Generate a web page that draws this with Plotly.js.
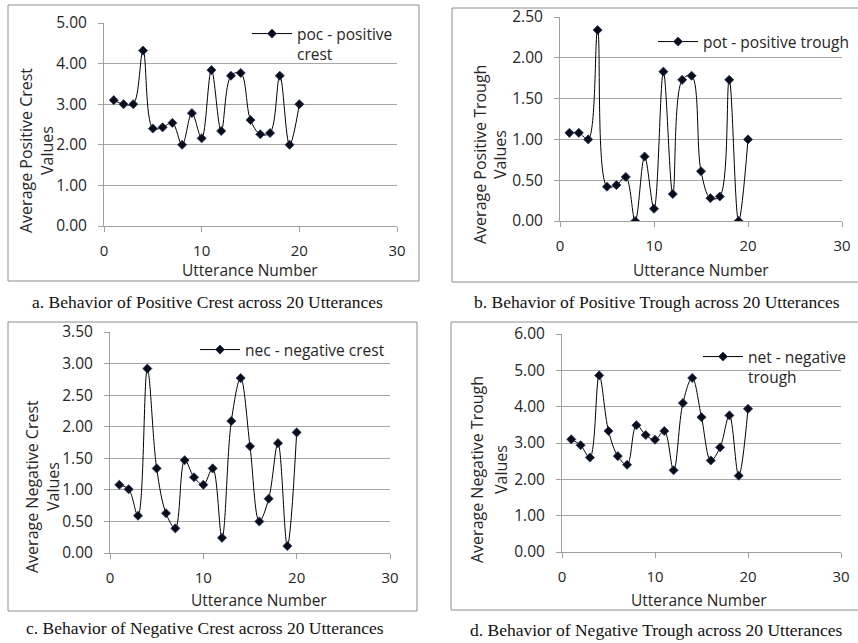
<!DOCTYPE html>
<html>
<head>
<meta charset="utf-8">
<script src="https://cdn.plot.ly/plotly-3.0.1.min.js"></script>
<style>html,body{margin:0;padding:0;background:#fff;}#chart{width:858px;height:643px;}</style>
</head>
<body>
<div id="chart"></div>
<script>
// ---- data ----
const utterances = [1,2,3,4,5,6,7,8,9,10,11,12,13,14,15,16,17,18,19,20];
const pocValues = [3.10,3.00,3.00,4.32,2.40,2.43,2.54,2.00,2.78,2.16,3.84,2.34,3.70,3.77,2.61,2.26,2.29,3.70,2.00,3.00];
const potValues = [1.08,1.08,1.00,2.34,0.42,0.44,0.54,0.00,0.79,0.15,1.83,0.33,1.73,1.78,0.61,0.28,0.30,1.73,0.00,1.00];
const necValues = [1.08,1.01,0.59,2.92,1.34,0.63,0.39,1.47,1.20,1.08,1.34,0.24,2.09,2.77,1.69,0.50,0.86,1.74,0.11,1.91];
const netValues = [3.10,2.94,2.60,4.86,3.33,2.64,2.40,3.49,3.22,3.09,3.33,2.25,4.10,4.79,3.71,2.52,2.88,3.76,2.10,3.94];
const seriesNames = ["poc - positive<br>crest","pot - positive trough","nec - negative crest","net - negative<br>trough"];
const yTitles = [["Average Positive Crest","Values"],["Average Positive Trough","Values"],["Average Negative Crest","Values"],["Average Negative Trough","Values"]];
const xTitle = "Utterance Number";
const captions = ["a. Behavior of Positive Crest across 20 Utterances","b. Behavior of Positive Trough across 20 Utterances","c. Behavior of Negative Crest across 20 Utterances","d. Behavior of Negative Trough across 20 Utterances"];
const yMax = [5, 2.5, 3.5, 6];
const yStep = [1, 0.5, 0.5, 1];
const xTicks = [0,10,20,30];

// ---- layout geometry (pixels) ----
const W = 858, H = 643;
const px = v => v / W;
const py = v => 1 - v / H;
const plots = [
  {x0:104, x1:397, y0:23,  y1:226, box:[8,5,419,281],    leg:[247,17], yt:[[26,151],[47,151]], xt:[250,270], cap:[207,302]},
  {x0:560, x1:842, y0:17,  y1:221, box:[452,8,870,282],  leg:[653,25], yt:[[480,155],[500,155]], xt:[701,270], cap:[657,302]},
  {x0:110, x1:390, y0:332, y1:553, box:[8,322,417,611],  leg:[195,333], yt:[[32,487],[53,487]], xt:[259,600], cap:[205,628]},
  {x0:562, x1:841, y0:334, y1:552, box:[451,322,870,610], leg:[698,340], yt:[[477,470],[501,470]], xt:[699,600], cap:[656,630]}
];
const allValues = [pocValues, potValues, necValues, netValues];

const FONT = "Open Sans, Liberation Sans, sans-serif";
const TXT = "#262626";
const traces = [];
const layout = {
  width: W, height: H,
  margin: {l:0, r:0, t:0, b:0},
  paper_bgcolor: "#fff", plot_bgcolor: "rgba(0,0,0,0)",
  font: {family: FONT, size: 15, color: TXT},
  showlegend: true,
  shapes: [], annotations: []
};

plots.forEach((p, i) => {
  const n = i === 0 ? "" : String(i + 1);
  const legName = "legend" + n;
  traces.push({
    type: "scatter", mode: "lines+markers",
    x: utterances, y: allValues[i],
    name: seriesNames[i],
    xaxis: "x" + n, yaxis: "y" + n,
    legend: legName, showlegend: true,
    line: {color: "#000", width: 1, shape: "spline", smoothing: 1},
    marker: {symbol: "diamond", size: 7, color: "#0b0b1a", line: {color: "#1f3a60", width: 0.8}}
  });
  const ticks = [];
  for (let v = 0; v <= yMax[i] + 1e-9; v += yStep[i]) ticks.push(+v.toFixed(2));
  layout["xaxis" + n] = {
    domain: [px(p.x0), px(p.x1)], anchor: "y" + n,
    range: [0, 30], tickvals: xTicks, ticktext: xTicks.map(String),
    showgrid: false, zeroline: false,
    showline: true, linecolor: "#a0a0a0", linewidth: 1,
    ticks: "outside", ticklen: 5, tickcolor: "#a0a0a0",
    tickfont: {family: FONT, size: 15, color: TXT},
    ticklabelstandoff: 6, fixedrange: true
  };
  layout["yaxis" + n] = {
    domain: [py(p.y1), py(p.y0)], anchor: "x" + n,
    range: [0, yMax[i]], tickvals: ticks, ticktext: ticks.map(v => v.toFixed(2)),
    showgrid: true, gridcolor: "#a6a6a6", gridwidth: 1, zeroline: false,
    showline: true, linecolor: "#a0a0a0", linewidth: 1,
    ticks: "outside", ticklen: 5, tickcolor: "#a0a0a0",
    tickfont: {family: FONT, size: 15.5, color: TXT},
    ticklabelstandoff: 8, fixedrange: true
  };
  layout[legName] = {
    x: px(p.leg[0]), y: py(p.leg[1]), xanchor: "left", yanchor: "top",
    bgcolor: "rgba(0,0,0,0)", borderwidth: 0, valign: "top",
    font: {family: FONT, size: 15.5, color: TXT}, itemwidth: 40
  };
  layout.shapes.push({type: "rect", xref: "paper", yref: "paper",
    x0: px(p.box[0]), x1: px(p.box[2]), y0: py(p.box[3]), y1: py(p.box[1]),
    line: {color: "#8c8c8c", width: 1}, fillcolor: "rgba(0,0,0,0)", layer: "below"});
  p.yt.forEach((pos, k) => layout.annotations.push({
    xref: "paper", yref: "paper", x: px(pos[0]), y: py(pos[1]),
    xanchor: "center", yanchor: "middle", textangle: -90, showarrow: false,
    text: yTitles[i][k], font: {family: FONT, size: 16, color: TXT}
  }));
  layout.annotations.push({xref: "paper", yref: "paper", x: px(p.xt[0]), y: py(p.xt[1]),
    xanchor: "center", yanchor: "middle", showarrow: false, text: xTitle,
    font: {family: FONT, size: 15.5, color: TXT}});
  layout.annotations.push({xref: "paper", yref: "paper", x: px(p.cap[0]), y: py(p.cap[1]),
    xanchor: "center", yanchor: "middle", showarrow: false, text: captions[i],
    font: {family: "Liberation Serif, Times New Roman, serif", size: 17.5, color: "#111"}});
});

Plotly.newPlot("chart", traces, layout, {displayModeBar: false, staticPlot: true});
</script>
</body>
</html>
